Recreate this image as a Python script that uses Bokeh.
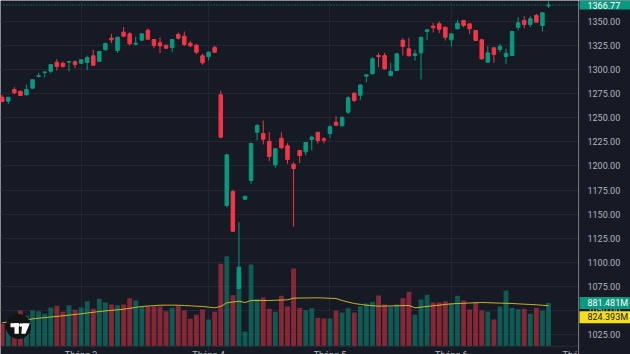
from bokeh.plotting import figure
from bokeh.layouts import row
from bokeh.models import Range1d, FixedTicker, Grid, Span, Label
from bokeh.core.properties import value
from bokeh.embed import file_html
from bokeh.resources import INLINE

# ---------------- data ----------------
open_ = [1271.2, 1267.1, 1279.2, 1277.4, 1273.7, 1280.6, 1292.8, 1296.8, 1298.2, 1307.5,
         1306.5, 1307.7, 1307.9, 1306.5, 1307.2, 1314.1, 1308.5, 1320.4, 1332.4, 1319.6,
         1338.6, 1336.9, 1326.2, 1330.3, 1340.7, 1331.0, 1327.6, 1325.1, 1322.7, 1336.2,
         1334.5, 1327.2, 1325.1, 1314.1, 1313.4, 1322.7, 1273.7, 1159.0, 1173.5, 1073.0,
         1165.5, 1184.9, 1234.9, 1233.6, 1225.6, 1201.2, 1228.7, 1220.9, 1201.8, 1216.0,
         1214.6, 1227.4, 1234.9, 1228.1, 1233.6, 1245.3, 1241.6, 1255.7, 1275.4, 1273.2,
         1293.0, 1295.5, 1314.4, 1314.4, 1293.7, 1298.9, 1330.3, 1321.4, 1314.4, 1317.2,
         1339.3, 1344.8, 1347.3, 1343.8, 1330.7, 1342.1, 1350.7, 1347.3, 1340.4, 1330.7,
         1307.5, 1322.4, 1320.7, 1313.4, 1314.4, 1343.8, 1350.7, 1346.6, 1355.9, 1345.5,
         1365.9]
high = [1273.7, 1271.5, 1281.6, 1278.0, 1284.1, 1289.8, 1296.5, 1298.2, 1305.5, 1310.6,
        1308.2, 1308.4, 1309.3, 1310.5, 1314.4, 1320.4, 1319.0, 1327.9, 1336.9, 1333.8,
        1343.8, 1338.6, 1334.1, 1337.3, 1342.4, 1331.3, 1333.1, 1325.5, 1331.4, 1338.3,
        1339.3, 1329.7, 1326.6, 1316.2, 1318.3, 1324.8, 1278.2, 1212.0, 1175.3, 1141.7,
        1168.8, 1223.6, 1243.7, 1247.1, 1234.9, 1218.2, 1234.9, 1223.6, 1203.9, 1216.4,
        1224.7, 1231.5, 1235.3, 1229.8, 1242.2, 1251.5, 1251.0, 1272.0, 1276.4, 1284.3,
        1294.6, 1312.7, 1317.2, 1317.2, 1306.9, 1316.6, 1332.4, 1332.8, 1320.4, 1333.8,
        1341.4, 1348.3, 1349.7, 1344.2, 1337.3, 1351.4, 1351.1, 1347.7, 1340.8, 1331.8,
        1324.1, 1322.8, 1326.6, 1321.4, 1339.7, 1354.1, 1355.2, 1355.2, 1357.7, 1359.1,
        1370.7]
low = [1266.0, 1264.4, 1274.3, 1272.5, 1273.0, 1280.0, 1291.6, 1291.6, 1296.1, 1298.9,
       1302.0, 1297.9, 1301.3, 1306.0, 1299.2, 1304.0, 1308.0, 1319.6, 1327.2, 1317.2,
       1333.4, 1324.8, 1325.1, 1330.0, 1331.0, 1322.0, 1316.8, 1321.6, 1317.9, 1331.0,
       1324.1, 1323.1, 1316.2, 1304.8, 1309.3, 1317.2, 1229.0, 1157.0, 1131.5, 1072.5,
       1165.3, 1181.5, 1226.4, 1222.2, 1204.9, 1198.1, 1217.8, 1202.2, 1137.2, 1202.8,
       1210.8, 1216.0, 1223.2, 1223.2, 1229.1, 1241.6, 1241.0, 1254.0, 1266.1, 1268.5,
       1286.8, 1295.0, 1302.3, 1299.6, 1292.7, 1298.5, 1314.4, 1313.7, 1309.3, 1289.6,
       1330.7, 1338.6, 1337.6, 1330.0, 1323.8, 1341.7, 1343.8, 1336.9, 1329.6, 1310.0,
       1307.0, 1306.9, 1317.9, 1305.8, 1314.0, 1340.4, 1342.7, 1343.8, 1348.6, 1339.3,
       1363.9]
close = [1266.8, 1271.2, 1275.8, 1273.0, 1279.2, 1289.3, 1293.4, 1297.4, 1305.1, 1303.1,
         1303.1, 1308.2, 1305.1, 1310.0, 1312.4, 1304.4, 1318.6, 1326.9, 1330.7, 1333.4,
         1334.5, 1326.6, 1327.2, 1336.9, 1331.3, 1324.8, 1324.5, 1322.0, 1331.0, 1332.4,
         1325.8, 1324.5, 1317.9, 1306.9, 1317.9, 1317.9, 1229.8, 1211.5, 1132.4, 1095.1,
         1168.6, 1223.2, 1241.9, 1227.7, 1209.8, 1217.8, 1218.8, 1206.7, 1197.3, 1210.8,
         1224.3, 1229.8, 1226.4, 1226.7, 1240.6, 1242.2, 1250.5, 1270.6, 1267.8, 1283.9,
         1294.4, 1311.0, 1313.4, 1300.7, 1297.9, 1316.2, 1323.8, 1314.1, 1316.2, 1333.4,
         1341.1, 1343.2, 1341.7, 1333.4, 1336.9, 1347.9, 1345.5, 1342.1, 1330.0, 1311.0,
         1317.2, 1315.5, 1324.1, 1316.8, 1339.3, 1348.3, 1346.6, 1352.5, 1349.0, 1358.7,
         1366.77]
# volume in millions
volume_m = [456, 334, 605, 727, 619, 727, 713, 660, 788, 823,
            701, 835, 741, 788, 916, 762, 965, 890, 849, 835,
            849, 978, 931, 809, 809, 809, 809, 713, 782, 829,
            727, 558, 640, 747, 544, 701, 1678, 1833, 1039, 1487,
            299, 1664, 965, 992, 762, 701, 1026, 809, 1582, 782,
            733, 774, 578, 564, 564, 721, 686, 774, 686, 815,
            870, 904, 1033, 849, 809, 849, 978, 1108, 640, 951,
            1047, 890, 890, 916, 864, 1026, 931, 747, 896, 727,
            707, 544, 809, 1134, 782, 754, 762, 660, 782, 727,
            881.481]
# volume moving average (millions)
volume_ma_m = [477, 492, 508, 523, 539, 555, 570, 582, 595, 607,
               619, 633, 646, 660, 676, 691, 707, 719, 730, 742,
               754, 772, 791, 809, 818, 826, 835, 836, 836, 835,
               829, 822, 815, 809, 796, 782, 809, 884, 900, 916,
               890, 931, 931, 931, 931, 936, 940, 945, 978, 980,
               982, 984, 986, 981, 976, 971, 931, 900, 870, 852,
               835, 825, 815, 818, 821, 824, 826, 829, 782, 795,
               809, 823, 836, 850, 864, 869, 874, 880, 885, 890,
               886, 882, 878, 874, 870, 863, 856, 850, 843, 834,
               824.393]
price_ticks = [1025, 1050, 1075, 1100, 1125, 1150, 1175, 1200, 1225, 1250, 1275, 1300, 1325, 1350]
month_start_idx = [13, 34, 54, 74, 95]
month_labels = ["Tháng 3", "Tháng 4", "Tháng 5", "Tháng 6", "Tháng 7"]

# ---------------- style ----------------
BG = "#161a25"
GRID = "#232632"
BORDER = "#2a2e39"
UP = "#089981"
DOWN = "#f23645"
AXIS_TXT = "#b2b5be"
MA_COLOR = "#e3cc2c"
FONT = "Roboto"
FS = "9px"

n = len(close)
idx = list(range(n))
is_up = [c >= o for o, c in zip(open_, close)]
colors = [UP if u else DOWN for u in is_up]
body_top = [max(o, c) for o, c in zip(open_, close)]
body_bot = [min(o, c) for o, c in zip(open_, close)]

price_range = Range1d(1004.6, 1371.45)
vol_range = Range1d(-169, 7041)

# ---------------- main pane ----------------
p = figure(width=578, height=354,
           x_range=Range1d(-0.28, 94.94), y_range=price_range,
           output_backend="svg", toolbar_location=None,
           x_axis_location=None, y_axis_location=None,
           min_border_left=0, min_border_top=0, min_border_bottom=0, min_border_right=0,
           background_fill_color=BG, border_fill_color=BG, outline_line_color=None)
p.center = [r for r in p.center if not isinstance(r, Grid)]
p.extra_y_ranges = {"vol": vol_range, "py": Range1d(354, 0)}
p.extra_x_ranges = {"px": Range1d(0, 578)}

p.add_layout(Grid(dimension=1, ticker=FixedTicker(ticks=price_ticks), grid_line_color=GRID))
p.add_layout(Grid(dimension=0, ticker=FixedTicker(ticks=month_start_idx), grid_line_color=GRID))

# volume
p.vbar(x=idx, top=volume_m, bottom=0, width=0.8, fill_color=colors, fill_alpha=0.5,
       line_color=None, y_range_name="vol")
p.line(idx, volume_ma_m, y_range_name="vol", line_color=MA_COLOR, line_width=1, line_alpha=0.85)
p.add_layout(Span(location=0, dimension="width", y_range_name="vol", line_color=BORDER, line_width=1))

# candles
p.segment(x0=idx, y0=low, x1=idx, y1=high, line_color=colors, line_width=1)
p.vbar(x=idx, top=body_top, bottom=body_bot, width=0.58, fill_color=colors, line_color=colors, line_width=1)

# last price line
p.add_layout(Span(location=close[-1], dimension="width", line_color=UP, line_dash="1 2", line_width=1))

# time axis labels (cut by the bottom edge as in the reference)
p.text(x=month_start_idx, y=[349.5] * len(month_labels), text=month_labels, y_range_name="py",
       text_align="center", text_baseline="top", text_color=AXIS_TXT,
       text_font=value(FONT), text_font_size=FS)

# TradingView logo
p.scatter(x=[18], y=[326], size=25, marker="circle", x_range_name="px", y_range_name="py",
          fill_color="#131313", line_color=None)
p.quad(left=[10, 14], right=[18.3, 18.3], top=[322.7, 322.7], bottom=[326.7, 333.3],
       x_range_name="px", y_range_name="py", fill_color="white", line_color=None)
p.scatter(x=[20.4], y=[324.6], size=3.6, marker="circle", x_range_name="px", y_range_name="py",
          fill_color="white", line_color=None)
p.patch(x=[21.8, 29.3, 25.0, 20.8], y=[322.7, 322.7, 333.3, 333.3], x_range_name="px", y_range_name="py",
        fill_color="white", line_color=None)

# ---------------- price scale ----------------
s = figure(width=52, height=354, x_range=Range1d(0, 52), y_range=price_range,
           output_backend="svg", toolbar_location=None,
           x_axis_location=None, y_axis_location=None,
           min_border_left=0, min_border_top=0, min_border_bottom=0, min_border_right=0,
           background_fill_color=BG, border_fill_color=BG, outline_line_color=None)
s.center = [r for r in s.center if not isinstance(r, Grid)]
s.extra_y_ranges = {"vol": vol_range}
s.add_layout(Span(location=0.5, dimension="height", line_color=BORDER, line_width=1))
s.text(x=[9] * len(price_ticks), y=price_ticks, text=[f"{t:.2f}" for t in price_ticks],
       text_align="left", text_baseline="middle", text_color=AXIS_TXT,
       text_font=value(FONT), text_font_size=FS)

lbl_pad = dict(left=8, right=20, top=1, bottom=1)
s.add_layout(Label(x=1, y=close[-1], text=f"{close[-1]:.2f}",
                   text_align="left", text_baseline="middle", text_color="white",
                   text_font=FONT, text_font_size=FS, background_fill_color=UP, padding=lbl_pad))
s.add_layout(Label(x=1, y=volume_m[-1], y_range_name="vol", text=f"{volume_m[-1]:.3f}M",
                   text_align="left", text_baseline="middle", text_color="white",
                   text_font=FONT, text_font_size=FS, background_fill_color=UP, padding=lbl_pad))
s.add_layout(Label(x=1, y=volume_ma_m[-1], y_range_name="vol", y_offset=-11.5,
                   text=f"{volume_ma_m[-1]:.3f}M",
                   text_align="left", text_baseline="middle", text_color="#131722",
                   text_font=FONT, text_font_size=FS, background_fill_color="#f5df1a", padding=lbl_pad))

layout = row(p, s, spacing=0)
open("out.html", "w").write(file_html(layout, INLINE, title="VN-Index"))
